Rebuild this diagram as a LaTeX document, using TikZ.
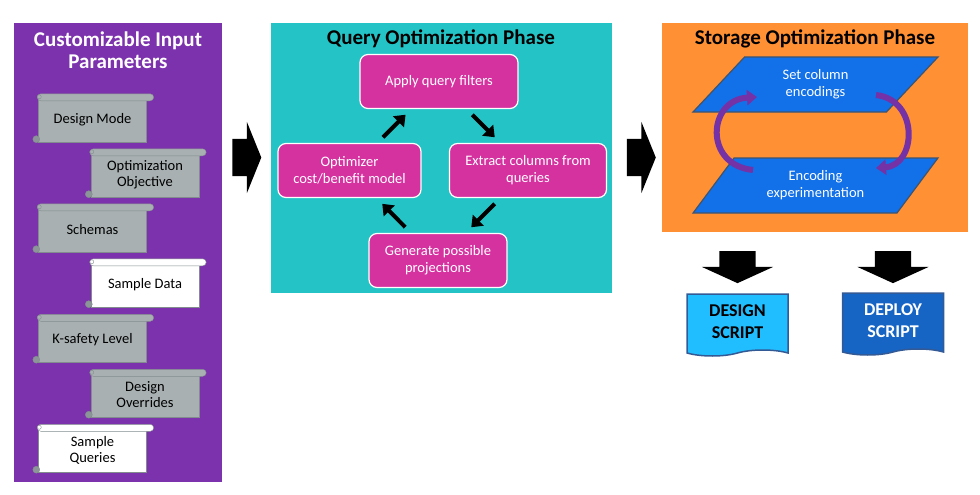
\documentclass[tikz,border=0pt]{standalone}
\usepackage{fontspec}
\setmainfont{Carlito}
\usetikzlibrary{arrows.meta,shapes.geometric,shapes.arrows,shapes.symbols}
\definecolor{panelpurple}{RGB}{124,49,173}
\definecolor{panelcyan}{RGB}{36,196,198}
\definecolor{panelorange}{RGB}{255,144,52}
\definecolor{stepmagenta}{RGB}{213,50,160}
\definecolor{encblue}{RGB}{18,112,232}
\definecolor{encedge}{RGB}{64,84,110}
\definecolor{looppurple}{RGB}{116,50,166}
\definecolor{scrollgray}{RGB}{168,176,177}
\definecolor{scrolledge}{RGB}{130,140,142}
\definecolor{scrolldark}{RGB}{140,150,152}
\definecolor{scriptlight}{RGB}{32,190,255}
\definecolor{scriptdark}{RGB}{22,100,196}
\definecolor{scriptedge}{RGB}{52,90,150}
\begin{document}
\begin{tikzpicture}[x=1pt,y=-1pt,
        paneltitle/.style={font=\bfseries\fontsize{21}{22}\selectfont, align=center},
        scrollbox/.style={draw=scrolledge, fill=scrollgray, minimum width=108pt, minimum height=45pt, inner sep=2pt, align=center, font=\fontsize{14.5}{16}\selectfont},
        stepbox/.style={draw=white, line width=1.2pt, fill=stepmagenta, rounded corners=8pt, text=white, align=center, minimum height=54pt, font=\fontsize{14.5}{17}\selectfont},
        cyclearrow/.style={line width=4pt, -{Triangle[length=10pt,width=15pt]}, shorten <=8pt, shorten >=8pt},
        blockarrow/.style={single arrow, fill=black, inner xsep=0pt, inner ysep=18.5pt, minimum height=29pt, minimum width=71pt, single arrow head extend=17pt, single arrow tip angle=136},
        downarrow/.style={single arrow, shape border rotate=270, fill=black, inner xsep=18pt, inner ysep=0pt, minimum height=32pt, minimum width=71pt, single arrow head extend=17.5pt, single arrow tip angle=131},
        encbox/.style={trapezium, trapezium left angle=54, trapezium right angle=126, trapezium stretches=true, minimum width=245pt, minimum height=55pt, draw=encedge, line width=1.2pt, fill=encblue, text=white, align=center, font=\fontsize{14.5}{17}\selectfont},
        looparrow/.style={line width=6pt, looppurple, -{Triangle[length=10pt,width=15pt]}},
        scriptbox/.style={tape, tape bend top=none, tape bend height=6pt, draw=scriptedge, line width=1.5pt, minimum width=101pt, minimum height=62pt, align=center, font=\bfseries\fontsize{18}{22}\selectfont}]
        \useasboundingbox (0,0) rectangle (980,495);
        \fill[panelpurple] (14,23) rectangle (222,482);
        \fill[panelcyan] (271,23) rectangle (612,293);
        \fill[panelorange] (662,23) rectangle (968,232);
        \node[paneltitle, text=white] (inputtitle) at (118,50) {Customizable Input\\Parameters};
        \node[paneltitle] (querytitle) at (441,39) {Query Optimization Phase};
        \node[paneltitle] (storagetitle) at (815,39) {Storage Optimization Phase};

        \node[scrollbox] (mode) at (92.5,119.5) {Design Mode};
        \node[scrollbox] (objective) at (145,174.5) {Optimization\\Objective};
        \node[scrollbox] (schemas) at (92.5,229.5) {Schemas};
        \node[scrollbox, fill=white] (data) at (145,284.5) {Sample Data};
        \node[scrollbox] (ksafety) at (92.5,340) {K-safety Level};
        \node[scrollbox] (overrides) at (145,395) {Design\\Overrides};
        \node[scrollbox, fill=white] (queries) at (92.5,450) {Sample\\Queries};
        \foreach \n/\c in {mode/scrollgray, objective/scrollgray, schemas/scrollgray, data/white, ksafety/scrollgray, overrides/scrollgray, queries/white} {
            \draw[scrolledge, fill=\c, rounded corners=3.5pt] ([shift={(-1,-3)}]\n.north west) rectangle ([shift={(7,4)}]\n.north east);
            \draw[scrolledge, fill=\c] ([shift={(1,0)}]\n.north west) circle (2);
            \draw[scrolledge, fill=scrolldark] ([shift={(-2,-3)}]\n.south west) circle (3.5);
        }

        \node[blockarrow] (toquery) at (243,157.5) {};
        \node[blockarrow] (tostorage) at (637.5,157.5) {};

        \node[stepbox, minimum width=158pt] (filters) at (439,81.5) {Apply query filters};
        \node[stepbox, minimum width=157pt] (extract) at (528,170.5) {Extract columns from\\queries};
        \node[stepbox, minimum width=138pt] (generate) at (438,260.5) {Generate possible\\projections};
        \node[stepbox, minimum width=143pt] (optimizer) at (349.5,170.5) {Optimizer\\cost/benefit model};
        \draw[cyclearrow] (optimizer) -- (filters);
        \draw[cyclearrow] (filters) -- (extract);
        \draw[cyclearrow] (extract) -- (generate);
        \draw[cyclearrow] (generate) -- (optimizer);

        \node[encbox] (setenc) at (815.5,84.5) {Set column\\encodings};
        \node[encbox] (encexp) at (815.5,185.5) {Encoding\\experimentation};
        \draw[looparrow] ([shift={(-62.5,-15.5)}]encexp.center) .. controls ([shift={(-112,-20.5)}]encexp.center) and ([shift={(-108,15.5)}]setenc.center) .. ([shift={(-58.5,12.5)}]setenc.center);
        \draw[looparrow] ([shift={(60.5,10.5)}]setenc.center) .. controls ([shift={(104,15.5)}]setenc.center) and ([shift={(101,-20.5)}]encexp.center) .. ([shift={(60.5,-17.5)}]encexp.center);

        \node[downarrow] (todesign) at (737.5,263) {};
        \node[downarrow] (todeploy) at (893,263) {};
        \node[scriptbox, fill=scriptlight] (design) at (737.5,322) {DESIGN\\SCRIPT};
        \node[scriptbox, fill=scriptdark, text=white] (deploy) at (893,321) {DEPLOY\\SCRIPT};
\end{tikzpicture}
\end{document}
